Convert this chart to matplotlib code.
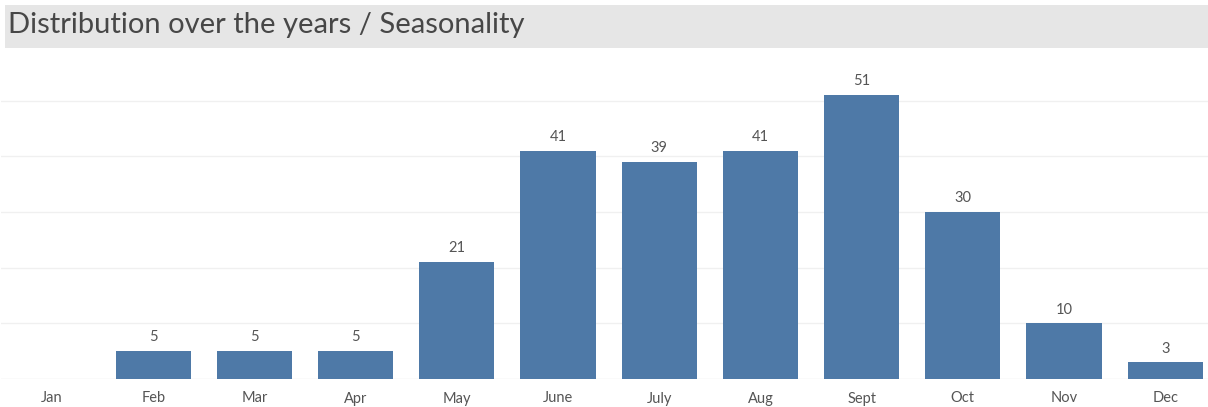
import matplotlib.pyplot as plt
from matplotlib.patches import Rectangle

months = ['Jan', 'Feb', 'Mar', 'Apr', 'May', 'June', 'July', 'Aug', 'Sept', 'Oct', 'Nov', 'Dec']
counts = [0, 5, 5, 5, 21, 41, 39, 41, 51, 30, 10, 3]

plt.rcParams['font.family'] = ['Lato', 'DejaVu Sans']

fig = plt.figure(figsize=(12.08, 4.07), dpi=100)

# title band
fig.patches.append(Rectangle((5/1208, 359/407), 1 - 5/1208, 43/407,
                             transform=fig.transFigure, facecolor='#e6e6e6',
                             edgecolor='none', zorder=0))
fig.text(8/1208, 382/407, 'Distribution over the years / Seasonality',
         fontsize=21, color='#474747', va='center', ha='left')

ax = fig.add_axes([1.4/1208, 28/407, 1214.4/1208, 324/407])
x = list(range(len(months)))
bars = ax.bar(x, counts, width=0.745, color='#4e79a7', zorder=3)
for xi, v in zip(x, counts):
    if v > 0:
        ax.text(xi, v + 1.2, str(v), ha='center', va='bottom', fontsize=10.5, color='#555555')

ax.set_xlim(-0.5, 11.5)
ax.set_ylim(0, 58.2)
ax.set_yticks([10, 20, 30, 40, 50])
ax.yaxis.grid(True, color='#f0f0f0', linewidth=1)
ax.axhline(0, color='#e6e6e6', linewidth=1, zorder=2)
ax.set_xticks(x)
ax.set_xticklabels(months, fontsize=10.5, color='#555555')
ax.tick_params(axis='x', length=0, pad=9)
ax.tick_params(axis='y', left=False, labelleft=False)
for s in ax.spines.values():
    s.set_visible(False)

fig.savefig('out.png', dpi=100)
